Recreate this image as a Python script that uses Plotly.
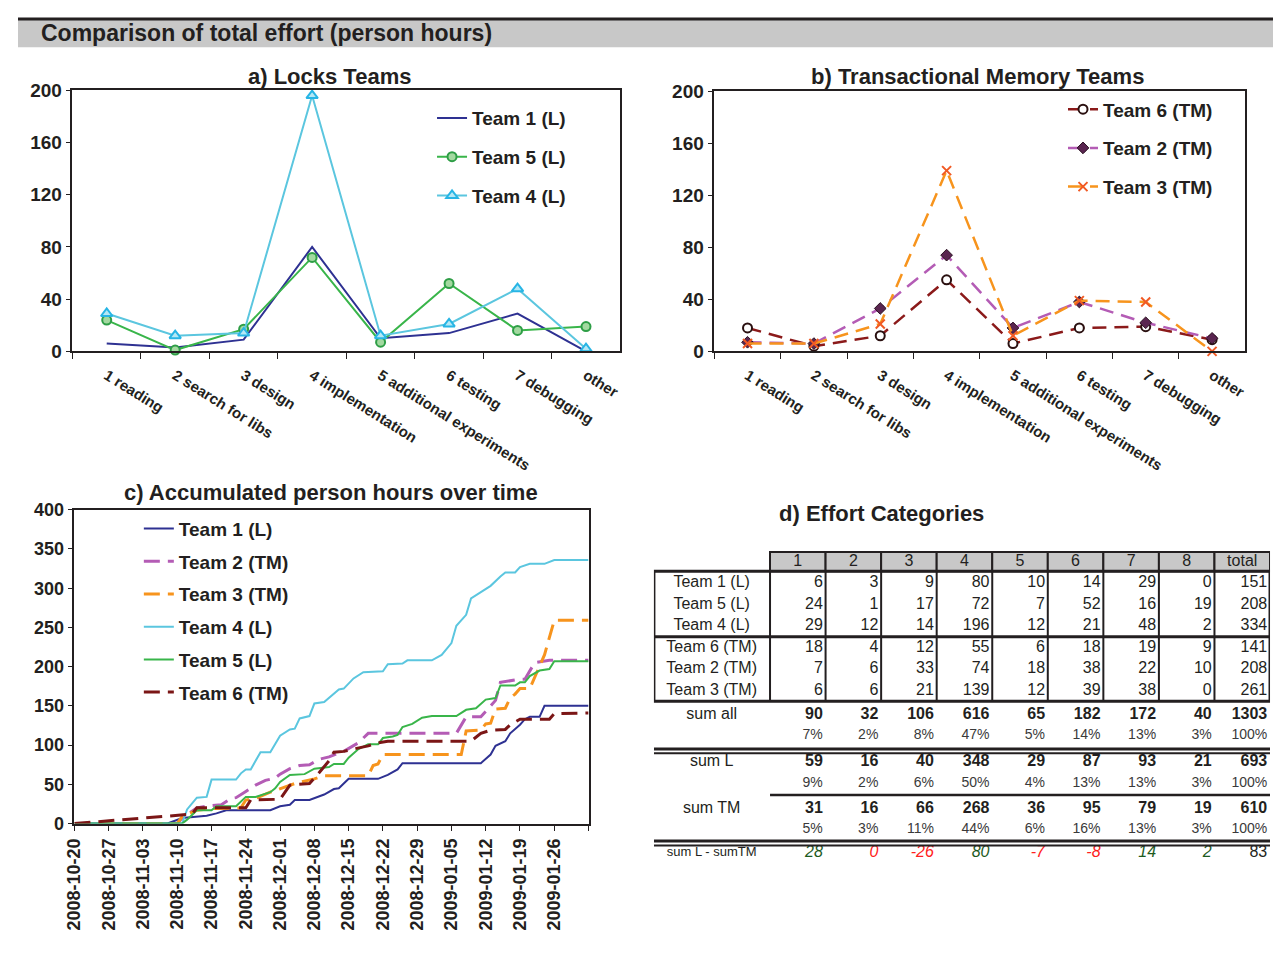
import pandas as pd
import plotly.graph_objects as go

# page body keeps its default 8px margin, so the figure is sized to fit inside it
OFF = 8
FW, FH = 1266, 938
FONT = "Liberation Sans, Arial, sans-serif"
INK = "#231F20"

# ---- panels a) and b): effort per category ----
categories = ["1 reading", "2 search for libs", "3 design", "4 implementation",
              "5 additional experiments", "6 testing", "7 debugging", "other"]
team1 = [6, 3, 9, 80, 10, 14, 29, 0]
team5 = [24, 1, 17, 72, 7, 52, 16, 19]
team4 = [29, 12, 14, 196, 12, 21, 48, 2]
team6 = [18, 4, 12, 55, 6, 18, 19, 9]
team2 = [7, 6, 33, 74, 18, 38, 22, 10]
team3 = [6, 6, 21, 139, 12, 39, 38, 0]

# ---- panel c): accumulated hours, (days since START, hours) ----
START = "2008-10-20"
END = "2009-02-02"
acc_t1_day = [0, 19, 22, 25, 27, 29, 31, 40, 42, 44, 45, 48, 50, 51, 53, 54, 56, 62, 64, 66,
              67, 83, 85, 86, 88, 89, 91, 92, 93, 95, 96, 105]
acc_t1_hrs = [0, 0, 7, 9, 10, 13, 17, 17, 22, 24, 30, 30, 34, 37, 44, 45, 57, 57, 62, 69,
              77, 77, 88, 99, 105, 115, 126, 133, 136, 136, 150, 150]
acc_t2_day = [0, 21, 22, 25, 28, 30, 32, 33, 35, 37, 39, 41, 42, 44, 46, 48, 50, 52, 54, 55,
              58, 60, 78, 80, 83, 86, 87, 91, 92, 94, 97, 105]
acc_t2_hrs = [0, 0, 7, 20, 23, 24, 32, 33, 41, 49, 55, 58, 63, 70, 74, 75, 82, 85, 90, 92,
              103, 115, 115, 136, 136, 157, 180, 184, 184, 205, 208, 208]
acc_t3_day = [0, 21, 22, 25, 28, 34, 35, 37, 40, 42, 45, 49, 51, 60, 61, 62, 63, 79, 80, 83,
              84, 85, 86, 88, 89, 90, 91, 93, 96, 98, 105]
acc_t3_hrs = [0, 0, 9, 17, 19, 20, 30, 32, 40, 44, 51, 57, 61, 61, 74, 76, 88, 88, 118, 119,
              127, 128, 146, 147, 160, 165, 172, 172, 215, 259, 259]
acc_t4_day = [0, 22, 23, 25, 27, 28, 33, 34, 35, 36, 38, 40, 42, 44, 45, 46, 48, 49, 51, 53,
              54, 55, 57, 59, 63, 64, 67, 68, 73, 75, 77, 78, 80, 81, 83, 85, 87, 88, 90, 91,
              93, 96, 98, 105]
acc_t4_hrs = [0, 0, 18, 33, 34, 56, 56, 64, 69, 69, 91, 91, 112, 120, 121, 134, 137, 153, 155, 165,
              171, 172, 185, 193, 194, 203, 204, 208, 208, 215, 230, 252, 266, 287, 295, 303, 315, 320, 320, 327,
              331, 331, 336, 336]
acc_t5_day = [0, 22, 23, 25, 28, 29, 33, 35, 37, 40, 41, 42, 44, 47, 49, 52, 53, 55, 56, 58,
              60, 62, 63, 65, 66, 67, 69, 71, 73, 78, 80, 82, 84, 86, 87, 90, 91, 92, 93, 95,
              97, 98, 105]
acc_t5_hrs = [0, 0, 5, 17, 17, 22, 22, 34, 34, 40, 45, 53, 62, 63, 70, 72, 76, 76, 84, 95,
              101, 101, 109, 111, 113, 123, 127, 135, 137, 137, 145, 147, 158, 160, 176, 176, 180, 180, 188, 195,
              197, 207, 207]
acc_t6_day = [0, 22, 24, 25, 35, 36, 42, 44, 48, 50, 52, 53, 55, 57, 60, 62, 64, 81, 83, 85,
              88, 89, 91, 97, 98, 105]
acc_t6_hrs = [0, 11, 12, 20, 20, 30, 31, 49, 51, 65, 80, 91, 92, 95, 99, 103, 105, 105, 115, 119,
              120, 126, 133, 133, 140, 141]
week_ticks = ["2008-10-20", "2008-10-27", "2008-11-03", "2008-11-10", "2008-11-17",
              "2008-11-24", "2008-12-01", "2008-12-08", "2008-12-15", "2008-12-22",
              "2008-12-29", "2009-01-05", "2009-01-12", "2009-01-19", "2009-01-26"]

# ---- panel d): table ----
col_heads = ["1", "2", "3", "4", "5", "6", "7", "8", "total"]
team_labels = ["Team 1 (L)", "Team 5 (L)", "Team 4 (L)", "Team 6 (TM)", "Team 2 (TM)", "Team 3 (TM)"]
team_totals = [151, 208, 334, 141, 208, 261]
sum_labels = ["sum all", "sum L", "sum TM"]
sum_all = [90, 32, 106, 616, 65, 182, 172, 40, 1303]
pct_all = ["7%", "2%", "8%", "47%", "5%", "14%", "13%", "3%", "100%"]
sum_l = [59, 16, 40, 348, 29, 87, 93, 21, 693]
pct_l = ["9%", "2%", "6%", "50%", "4%", "13%", "13%", "3%", "100%"]
sum_tm = [31, 16, 66, 268, 36, 95, 79, 19, 610]
pct_tm = ["5%", "3%", "11%", "44%", "6%", "16%", "13%", "3%", "100%"]
diff_l_tm = [28, 0, -26, 80, -7, -8, 14, 2, 83]


# page pixel -> paper fraction
def fx(p):
    return (p - OFF) / FW


def fy(p):
    return 1 - (p - OFF) / FH


def px_x(a, b):
    return [fx(a), fx(b)]


def px_y(top, bottom):
    return [fy(bottom), fy(top)]


def to_dates(days):
    return pd.Timestamp(START) + pd.to_timedelta(days, unit="D")


fig = go.Figure()

# panel a
fig.add_trace(go.Scatter(x=categories, y=team1, name="Team 1 (L)", mode="lines",
                         line=dict(color="#2E3192", width=2), legend="legend", legendgroup="a1",
                         cliponaxis=False))
fig.add_trace(go.Scatter(x=categories, y=team5, name="Team 5 (L)", mode="lines+markers",
                         line=dict(color="#39B54A", width=2),
                         marker=dict(symbol="circle", size=9, color="#A3D9A0", line=dict(color="#2E9E46", width=2)),
                         legend="legend", legendgroup="a2", cliponaxis=False))
fig.add_trace(go.Scatter(x=categories, y=team4, name="Team 4 (L)", mode="lines+markers",
                         line=dict(color="#5BC6DF", width=2),
                         marker=dict(symbol="triangle-up", size=10, color="#B5E8F5", line=dict(color="#27B5E5", width=2)),
                         legend="legend", legendgroup="a3", cliponaxis=False))

# panel b
fig.add_trace(go.Scatter(x=categories, y=team6, name="Team 6 (TM)", mode="lines+markers",
                         xaxis="x2", yaxis="y2",
                         line=dict(color="#8B1A1A", width=2.5, dash="14px,8px"),
                         marker=dict(symbol="circle", size=9, color="white", line=dict(color="#2A1010", width=2)),
                         legend="legend2", legendgroup="b1", cliponaxis=False))
fig.add_trace(go.Scatter(x=categories, y=team2, name="Team 2 (TM)", mode="lines+markers",
                         xaxis="x2", yaxis="y2",
                         line=dict(color="#B45CB5", width=2.5, dash="14px,8px"),
                         marker=dict(symbol="diamond", size=9, color="#5A2550", line=dict(color="#2A1020", width=1)),
                         legend="legend2", legendgroup="b2", cliponaxis=False))
fig.add_trace(go.Scatter(x=categories, y=team3, name="Team 3 (TM)", mode="lines+markers",
                         xaxis="x2", yaxis="y2",
                         line=dict(color="#F7941D", width=2.5, dash="14px,8px"),
                         marker=dict(symbol="x-thin", size=9, line=dict(color="#F15A24", width=2)),
                         legend="legend2", legendgroup="b3", cliponaxis=False))

# panel c
acc_series = [
    ("Team 1 (L)", acc_t1_day, acc_t1_hrs, "#2E3192", "solid", 2),
    ("Team 2 (TM)", acc_t2_day, acc_t2_hrs, "#B45CB5", "16px,8px", 3),
    ("Team 3 (TM)", acc_t3_day, acc_t3_hrs, "#F7941D", "16px,8px", 3),
    ("Team 4 (L)", acc_t4_day, acc_t4_hrs, "#5BC6DF", "solid", 2),
    ("Team 5 (L)", acc_t5_day, acc_t5_hrs, "#39B54A", "solid", 2),
    ("Team 6 (TM)", acc_t6_day, acc_t6_hrs, "#7B1616", "16px,8px", 3),
]
for i, (name, days, hrs, color, dash, width) in enumerate(acc_series):
    fig.add_trace(go.Scatter(x=to_dates(days), y=hrs, name=name, mode="lines",
                             xaxis="x3", yaxis="y3",
                             line=dict(color=color, width=width, dash=dash),
                             legend="legend3", legendgroup="c%d" % i))

# panel d: table drawn as text on a hidden axis pair (x4/y4)
LABEL_X = -1.05
HEAD_Y = 0
TEAM_Y = [1, 2, 3, 4, 5, 6]
SUM_Y = [7.14, 9.32, 11.5]
PCT_Y = [8.09, 10.32, 12.45]
DIFF_Y = 13.55
col_right = [c - 0.05 for c in range(1, 10)]
col_mid = [c - 0.5 for c in range(1, 10)]

txt = dict(mode="text", xaxis="x4", yaxis="y4", showlegend=False, hoverinfo="skip", cliponaxis=False)
fig.add_trace(go.Scatter(x=col_mid, y=[HEAD_Y] * 9, text=col_heads, textposition="middle center",
                         textfont=dict(family=FONT, size=16, color=INK), **txt))

team_rows = [team1, team5, team4, team6, team2, team3]
for r, vals in enumerate(team_rows):
    fig.add_trace(go.Scatter(x=col_right, y=[TEAM_Y[r]] * 9, text=vals + [team_totals[r]],
                             textposition="middle left",
                             textfont=dict(family=FONT, size=16, color=INK), **txt))

fig.add_trace(go.Scatter(x=[LABEL_X] * 9, y=TEAM_Y + SUM_Y, text=team_labels + sum_labels,
                         textposition="middle center",
                         textfont=dict(family=FONT, size=16, color=INK), **txt))
fig.add_trace(go.Scatter(x=[LABEL_X], y=[DIFF_Y], text=["sum L - sumTM"], textposition="middle center",
                         textfont=dict(family=FONT, size=13, color=INK), **txt))

for sy, py, sums, pcts in zip(SUM_Y, PCT_Y, [sum_all, sum_l, sum_tm], [pct_all, pct_l, pct_tm]):
    fig.add_trace(go.Scatter(x=col_right, y=[sy] * 9, text=sums, textposition="middle left",
                             textfont=dict(family=FONT, size=16, color=INK, weight="bold"), **txt))
    fig.add_trace(go.Scatter(x=col_right, y=[py] * 9, text=pcts, textposition="middle left",
                             textfont=dict(family=FONT, size=14, color="#3A3A3A"), **txt))

diff_colors = ["#1E5B1E" if v > 0 else "#FF2020" for v in diff_l_tm[:-1]]
fig.add_trace(go.Scatter(x=col_right[:-1], y=[DIFF_Y] * 8, text=diff_l_tm[:-1], textposition="middle left",
                         textfont=dict(family=FONT, size=16, color=diff_colors, style="italic"), **txt))
fig.add_trace(go.Scatter(x=col_right[-1:], y=[DIFF_Y], text=diff_l_tm[-1:], textposition="middle left",
                         textfont=dict(family=FONT, size=16, color=INK), **txt))

shapes = []
# title bar
shapes.append(dict(type="rect", xref="paper", yref="paper", x0=0, x1=fx(1275), y0=fy(38), y1=fy(10),
                   fillcolor="#C8C8C8", line=dict(width=0), layer="below"))
shapes.append(dict(type="line", xref="paper", yref="paper", x0=0, x1=fx(1275), y0=fy(9), y1=fy(9),
                   line=dict(color=INK, width=3)))
# table grid
TL, TR = -2.09, 9
for c in range(1, 10):
    shapes.append(dict(type="rect", xref="x4", yref="y4", x0=c - 1, x1=c, y0=-0.45, y1=0.45,
                       fillcolor="#C8C8C8", line=dict(color=INK, width=2), layer="below"))
shapes.append(dict(type="rect", xref="x4", yref="y4", x0=TL, x1=TR, y0=0.45, y1=6.5,
                   line=dict(color=INK, width=3)))
for c in range(0, 9):
    shapes.append(dict(type="line", xref="x4", yref="y4", x0=c, x1=c, y0=0.45, y1=6.5,
                       line=dict(color=INK, width=2)))
shapes.append(dict(type="line", xref="x4", yref="y4", x0=TL, x1=TR, y0=3.5, y1=3.5, line=dict(color=INK, width=3)))
for yy, lw in [(8.72, 3), (8.92, 2), (13.0, 3), (13.2, 2)]:
    shapes.append(dict(type="line", xref="x4", yref="y4", x0=TL, x1=TR, y0=yy, y1=yy, line=dict(color=INK, width=lw)))
shapes.append(dict(type="line", xref="x4", yref="y4", x0=0, x1=TR, y0=10.86, y1=10.86, line=dict(color=INK, width=2.5)))

title_font = dict(family=FONT, size=22, color=INK, weight="bold")
annotations = [
    dict(text="Comparison of total effort (person hours)", x=fx(29), y=fy(23), xref="paper", yref="paper",
         xanchor="left", yanchor="middle", showarrow=False, font=dict(family=FONT, size=23, color=INK, weight="bold")),
    dict(text="a) Locks Teams", x=fx(322), y=fy(68), xref="paper", yref="paper",
         xanchor="center", yanchor="middle", showarrow=False, font=title_font),
    dict(text="b) Transactional Memory Teams", x=fx(977), y=fy(68), xref="paper", yref="paper",
         xanchor="center", yanchor="middle", showarrow=False, font=title_font),
    dict(text="c) Accumulated person hours over time", x=fx(324), y=fy(493), xref="paper", yref="paper",
         xanchor="center", yanchor="middle", showarrow=False, font=title_font),
    dict(text="d) Effort Categories", x=fx(880), y=fy(515), xref="paper", yref="paper",
         xanchor="center", yanchor="middle", showarrow=False, font=title_font),
]

frame = dict(showgrid=False, zeroline=False, showline=True, mirror=True, linecolor=INK, linewidth=1.5,
             ticks="outside", tickcolor=INK)
cat_ticks = dict(type="category", range=[-0.5, 7.5], tickson="boundaries", tickangle=32, ticklen=6,
                 ticklabelstandoff=8, tickfont=dict(family=FONT, size=15, color=INK, weight="bold"))
val_ticks = dict(range=[0, 200], dtick=40, ticklen=5, tickfont=dict(family=FONT, size=19, color=INK, weight="bold"))
legend_style = dict(xanchor="left", yanchor="top", bgcolor="rgba(0,0,0,0)", traceorder="grouped",
                    font=dict(family=FONT, size=19, color=INK, weight="bold"))

fig.update_layout(
    width=FW, height=FH, margin=dict(l=0, r=0, t=0, b=0),
    paper_bgcolor="white", plot_bgcolor="white",
    font=dict(family=FONT, color=INK),
    xaxis=dict(domain=px_x(63, 616), anchor="y", **frame, **cat_ticks),
    yaxis=dict(domain=px_y(82, 349), anchor="x", **frame, **val_ticks),
    xaxis2=dict(domain=px_x(711, 1247), anchor="y2", **frame, **cat_ticks),
    yaxis2=dict(domain=px_y(83, 349), anchor="x2", **frame, **val_ticks),
    xaxis3=dict(domain=px_x(65, 584), anchor="y3", type="date", range=[START, END],
                tickvals=week_ticks, tickformat="%Y-%m-%d", tickangle=-90, ticklen=6,
                minor=dict(ticks="outside", ticklen=6, tickcolor=INK, dtick=7 * 86400000, tick0=START),
                tickfont=dict(family=FONT, size=18, color=INK, weight="bold"), **frame),
    yaxis3=dict(domain=px_y(511, 832), anchor="x3", range=[0, 400], dtick=50, ticklen=5,
                tickfont=dict(family=FONT, size=18, color=INK, weight="bold"), **frame),
    xaxis4=dict(domain=px_x(650, 1272), anchor="y4", range=[-2.09, 9], visible=False, fixedrange=True),
    yaxis4=dict(domain=px_y(545, 875), anchor="x4", range=[14.14, -0.864], visible=False, fixedrange=True),
    legend=dict(x=fx(426), y=fy(91), tracegroupgap=11, **legend_style),
    legend2=dict(x=fx(1063), y=fy(82), tracegroupgap=11, **legend_style),
    legend3=dict(x=fx(130), y=fy(511), tracegroupgap=5, **legend_style),
    shapes=shapes,
    annotations=annotations,
)

fig.write_html("out.html", config={"displayModeBar": False})
